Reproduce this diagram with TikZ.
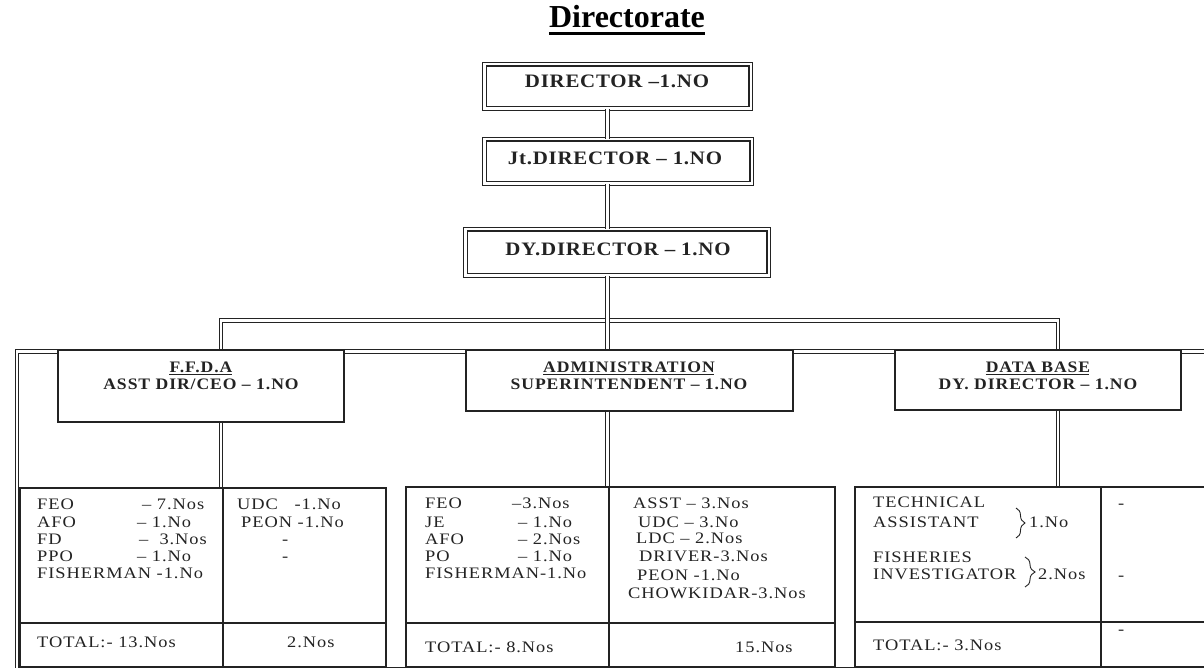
\documentclass[tikz,border=0pt]{standalone}
\usepackage{fontspec}
\setmainfont{Liberation Serif}
\newfontfamily\bxfont[LetterSpace=4, FakeStretch=1.1]{Liberation Serif}
\newfontfamily\sbfont[LetterSpace=6, FakeStretch=1.1]{Liberation Serif}
\newfontfamily\tbfont[LetterSpace=6, FakeStretch=1.15]{Liberation Serif}
\usetikzlibrary{decorations.pathreplacing}
\definecolor{ink}{RGB}{35,35,35}
\begin{document}
\begin{tikzpicture}[x=1pt,y=-1pt,
  dbl/.style={draw=ink, double=white, double distance=2.6pt, line width=1.1pt},
  dblbox/.style={draw=ink, double=white, double distance=2.4pt, line width=1.1pt, fill=white, inner sep=0},
  subbox/.style={draw=ink, line width=1.3pt, fill=white, inner sep=0},
  cell/.style={draw=ink, line width=1.1pt, inner sep=0},
  bt/.style={inner sep=0, anchor=base, text=ink, font=\bxfont\bfseries\fontsize{19}{22}\selectfont},
  sbt/.style={inner sep=0, anchor=base, text=ink, font=\sbfont\bfseries\fontsize{16}{19}\selectfont},
  tt/.style={inner sep=0, anchor=base west, text=ink, font=\tbfont\fontsize{16}{18}\selectfont},
  ul/.style={draw=ink, line width=1.1pt}
]
\clip (0,0) rectangle (1204,668);
\fill[white] (0,0) rectangle (1204,668);

% title
\node[inner sep=0, anchor=base, text=black, font=\bfseries\fontsize{32}{36}\selectfont] (title) at (627,28) {Directorate};
\draw[black, line width=2.6pt] ([shift={(0,5.6)}]title.base west) -- ([shift={(0,5.6)}]title.base east);

% coordinates for connector lines
\coordinate (cx) at (607.5,0);
\coordinate (lx) at (221,0);
\coordinate (rx) at (1058,0);
\coordinate (bar) at (0,320.5);

% top boxes
\node[dblbox, minimum width=266.4pt, minimum height=44.4pt] (dir) at (617.5,86.5) {};
\node[dblbox, minimum width=267.4pt, minimum height=44.4pt] (jt) at (618,161.5) {};
\node[dblbox, minimum width=303.4pt, minimum height=46.4pt] (dy) at (617,252.5) {};
\node[bt] (dirt) at (617,88) {DIRECTOR –1.NO};
\node[bt] (jtt) at (615,165) {Jt.DIRECTOR – 1.NO};
\node[bt] (dyt) at (618,255) {DY.DIRECTOR – 1.NO};

% tables
\node[cell, minimum width=203pt, minimum height=135pt] (t1a) at (121.5,555.5) {};
\node[cell, minimum width=163pt, minimum height=135pt] (t1b) at (304.5,555.5) {};
\node[cell, minimum width=203pt, minimum height=44pt] (t1c) at (121.5,645) {};
\node[cell, minimum width=163pt, minimum height=44pt] (t1d) at (304.5,645) {};
\node[cell, minimum width=203pt, minimum height=136pt] (t2a) at (507.5,555) {};
\node[cell, minimum width=226pt, minimum height=136pt] (t2b) at (722,555) {};
\node[cell, minimum width=203pt, minimum height=44pt] (t2c) at (507.5,645) {};
\node[cell, minimum width=226pt, minimum height=44pt] (t2d) at (722,645) {};
\node[cell, minimum width=246pt, minimum height=135pt] (t3a) at (978,554.5) {};
\node[cell, minimum width=114pt, minimum height=135pt] (t3b) at (1158,554.5) {};
\node[cell, minimum width=246pt, minimum height=45pt] (t3c) at (978,644.5) {};
\node[cell, minimum width=114pt, minimum height=45pt] (t3d) at (1158,644.5) {};
\draw[ink, line width=1.1pt] (t1d.south east) -- (t2c.south west);
\draw[ink, line width=1.1pt] (t2d.south east) -- (t3c.south west);

% connectors
\draw[dbl] (dir.south -| cx) -- (jt.north -| cx);
\draw[dbl] (jt.south -| cx) -- (dy.north -| cx);
\draw[dbl] (lx |- 0,350) -- (lx |- bar) -- (rx |- bar) -- (rx |- 0,350);
\draw[dbl] (dy.south -| cx) -- (cx |- 0,350);
\draw[dbl] (17,670) -- (17,351.5) -- (1210,351.5);

% sub boxes
\node[subbox, minimum width=286pt, minimum height=72pt] (ffda) at (201,386) {};
\node[subbox, minimum width=327pt, minimum height=61pt] (admin) at (629.5,380.5) {};
\node[subbox, minimum width=286pt, minimum height=60pt] (db) at (1038,380) {};

\draw[dbl] (ffda.south -| lx) -- (t1a.north -| lx);
\draw[dbl] (admin.south -| cx) -- (t2a.north -| cx);
\draw[dbl] (db.south -| rx) -- (t3a.north -| rx);

% sub box texts
\node[sbt] (ffdah) at (201,372) {F.F.D.A};
\draw[ul] ([shift={(0,2.4)}]ffdah.base west) -- ([shift={(-1,2.4)}]ffdah.base east);
\node[sbt] (ffdat) at (201,389) {ASST DIR/CEO – 1.NO};
\node[sbt] (adminh) at (629,372) {ADMINISTRATION};
\draw[ul] ([shift={(0,2.4)}]adminh.base west) -- ([shift={(-1,2.4)}]adminh.base east);
\node[sbt] (admint) at (629,389) {SUPERINTENDENT – 1.NO};
\node[sbt] (dbh) at (1038,372) {DATA BASE};
\draw[ul] ([shift={(0,2.4)}]dbh.base west) -- ([shift={(-1,2.4)}]dbh.base east);
\node[sbt] (dbt) at (1038,389) {DY. DIRECTOR – 1.NO};

% FFDA table text
\node[tt] (a1) at (37,509) {FEO};
\node[tt] (a2) at (37,527) {AFO};
\node[tt] (a3) at (37,544) {FD};
\node[tt] (a4) at (37,561) {PPO};
\node[tt] (a5) at (37,578) {FISHERMAN -1.No};
\node[tt] (av1) at (142,509) {– 7.Nos};
\node[tt] (av2) at (137,527) {– 1.No};
\node[tt] (av3) at (139,544) {–\ \ 3.Nos};
\node[tt] (av4) at (137,561) {– 1.No};
\node[tt] (b1) at (237,509) {UDC\ \ \ -1.No};
\node[tt] (b2) at (241,527) {PEON -1.No};
\node[tt] (b3) at (282,544) {-};
\node[tt] (b4) at (282,561) {-};
\node[tt] (c1) at (37,647) {TOTAL:- 13.Nos};
\node[tt] (d1) at (287,647) {2.Nos};

% ADMIN table text
\node[tt] (e1) at (425,508) {FEO};
\node[tt] (e2) at (425,527) {JE};
\node[tt] (e3) at (425,544) {AFO};
\node[tt] (e4) at (425,561) {PO};
\node[tt] (e5) at (425,578) {FISHERMAN-1.No};
\node[tt] (ev1) at (512,508) {–3.Nos};
\node[tt] (ev2) at (518,527) {– 1.No};
\node[tt] (ev3) at (518,544) {– 2.Nos};
\node[tt] (ev4) at (518,561) {– 1.No};
\node[tt] (f1) at (633,508) {ASST – 3.Nos};
\node[tt] (f2) at (638,527) {UDC – 3.No};
\node[tt] (f3) at (636,543) {LDC – 2.Nos};
\node[tt] (f4) at (639,561) {DRIVER-3.Nos};
\node[tt] (f5) at (637,580) {PEON -1.No};
\node[tt] (f6) at (628,598) {CHOWKIDAR-3.Nos};
\node[tt] (g1) at (425,652) {TOTAL:- 8.Nos};
\node[tt] (h1) at (735,652) {15.Nos};

% DATA BASE table text
\node[tt] (k1) at (873,507) {TECHNICAL};
\node[tt] (k2) at (873,527) {ASSISTANT};
\draw[ink, line width=0.9pt, decorate, decoration={brace, amplitude=9pt}] (1016,508) -- (1016,538);
\node[tt] (k3) at (1029,527) {1.No};
\node[tt] (k4) at (873,562) {FISHERIES};
\node[tt] (k5) at (873,579) {INVESTIGATOR};
\draw[ink, line width=0.9pt, decorate, decoration={brace, amplitude=10pt}] (1025,557) -- (1025,587);
\node[tt] (k6) at (1038,579) {2.Nos};
\node[tt] (m1) at (1118,508) {-};
\node[tt] (m2) at (1118,580) {-};
\node[tt] (m3) at (1118,634) {-};
\node[tt] (n1) at (873,650) {TOTAL:- 3.Nos};
\end{tikzpicture}
\end{document}
